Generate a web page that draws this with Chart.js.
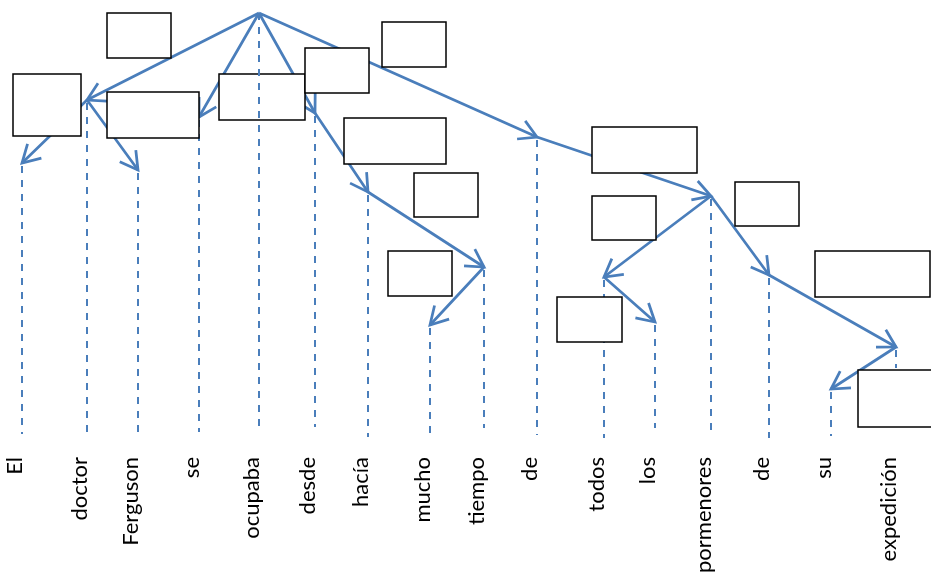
<!DOCTYPE html>
<html>
<head>
<meta charset="utf-8">
<script src="https://cdn.jsdelivr.net/npm/chart.js@4"></script>
<style>
  html, body { margin: 0; padding: 0; background: #fff; }
  #wrap { width: 931px; height: 573px; }
</style>
</head>
<body>
<div id="wrap"><canvas id="tree"></canvas></div>
<script>
// sentence and its dependency tree
const words = ["El", "doctor", "Ferguson", "se", "ocupaba", "desde", "hacía", "mucho", "tiempo", "de", "todos", "los", "pormenores", "de", "su", "expedición"]
const wordPos = [22, 87, 138, 199, 259, 315, 368, 430, 484, 537, 604, 655, 711, 769, 831, 896]
const heads = [1, 4, 1, 4, -1, 4, 5, 8, 6, 4, 12, 10, 9, 12, 15, 13]
const nodeDepth = [163, 100, 170, 117, 13, 113, 192, 325, 267, 137, 277, 322, 196, 275, 389, 347]
const stemEnd = [434, 437, 436, 432, 432, 427, 437, 437, 428, 435, 438, 428, 437, 438, 436, 368]

// empty relation label boxes (x1, y1, x2, y2 in axis units)
const labelBoxes = [
  [107, 13, 171, 58], [13, 74, 81, 136], [107, 92, 199, 138], [219, 74, 305, 120],
  [305, 48, 369, 93], [382, 22, 446, 67], [344, 118, 446, 164], [414, 173, 478, 217],
  [388, 251, 452, 296], [592, 127, 697, 173], [592, 196, 656, 240], [735, 182, 799, 226],
  [815, 251, 930, 297], [557, 297, 622, 342], [858, 370, 940, 427]
]

const blue = "#4a7ebb"
const rootIdx = heads.indexOf(-1)

const stems = []
words.forEach((w, i) => {
  if (i === rootIdx) return
  stems.push({ x: wordPos[i], y: nodeDepth[i] + 3 }, { x: wordPos[i], y: stemEnd[i] }, { x: wordPos[i], y: null })
})
const rootStem = [{ x: wordPos[rootIdx], y: nodeDepth[rootIdx] }, { x: wordPos[rootIdx], y: stemEnd[rootIdx] }]

const arcs = []
words.forEach((w, i) => {
  const h = heads[i]
  if (h < 0) return
  arcs.push({ x: wordPos[h], y: nodeDepth[h] }, { x: wordPos[i], y: nodeDepth[i] }, { x: wordPos[i], y: null })
})

const treeDecor = {
  id: "treeDecor",
  afterDatasetDraw(chart, args) {
    if (args.index !== 1) return
    const ctx = chart.ctx
    const xs = chart.scales.x
    const ys = chart.scales.y
    ctx.save()
    // arrow heads
    ctx.strokeStyle = blue
    ctx.lineWidth = 2.75
    words.forEach((w, i) => {
      const h = heads[i]
      if (h < 0) return
      const x0 = xs.getPixelForValue(wordPos[h]), y0 = ys.getPixelForValue(nodeDepth[h])
      const x1 = xs.getPixelForValue(wordPos[i]), y1 = ys.getPixelForValue(nodeDepth[i])
      const a = Math.atan2(y0 - y1, x0 - x1)
      ctx.beginPath()
      ctx.moveTo(x1 + 20 * Math.cos(a - 0.52), y1 + 20 * Math.sin(a - 0.52))
      ctx.lineTo(x1, y1)
      ctx.lineTo(x1 + 20 * Math.cos(a + 0.52), y1 + 20 * Math.sin(a + 0.52))
      ctx.stroke()
    })
    // label boxes
    ctx.fillStyle = "#fff"
    ctx.strokeStyle = "#000"
    ctx.lineWidth = 1.5
    labelBoxes.forEach(b => {
      const l = xs.getPixelForValue(b[0]), t = ys.getPixelForValue(b[1])
      const r = xs.getPixelForValue(b[2]), bt = ys.getPixelForValue(b[3])
      ctx.fillRect(l, t, r - l, bt - t)
      ctx.strokeRect(l, t, r - l, bt - t)
    })
    ctx.restore()
  }
}

new Chart(document.getElementById("tree"), {
  type: "line",
  data: {
    datasets: [
      { data: stems, borderColor: blue, borderWidth: 2, borderDash: [7, 7], pointRadius: 0, spanGaps: false, order: 3 },
      { data: arcs, borderColor: blue, borderWidth: 2.75, pointRadius: 0, spanGaps: false, order: 2 },
      { data: rootStem, borderColor: blue, borderWidth: 2, borderDash: [7, 7], pointRadius: 0, order: 1 }
    ]
  },
  options: {
    responsive: true,
    maintainAspectRatio: false,
    animation: false,
    layout: { padding: 0 },
    plugins: { legend: { display: false }, tooltip: { enabled: false } },
    scales: {
      x: {
        type: "linear",
        min: 0,
        max: 931,
        grid: { display: false, drawTicks: false },
        border: { display: false },
        afterBuildTicks: axis => { axis.ticks = wordPos.map(v => ({ value: v })) },
        afterFit: axis => { axis.height = 119 },
        ticks: {
          autoSkip: false,
          minRotation: 90,
          maxRotation: 90,
          padding: 3,
          labelOffset: -7,
          color: "#000",
          font: { family: "Lato", size: 22 },
          callback: (v, i) => words[i]
        }
      },
      y: {
        type: "linear",
        display: false,
        reverse: true,
        min: 0,
        max: 454
      }
    }
  },
  plugins: [treeDecor]
})
</script>
</body>
</html>
